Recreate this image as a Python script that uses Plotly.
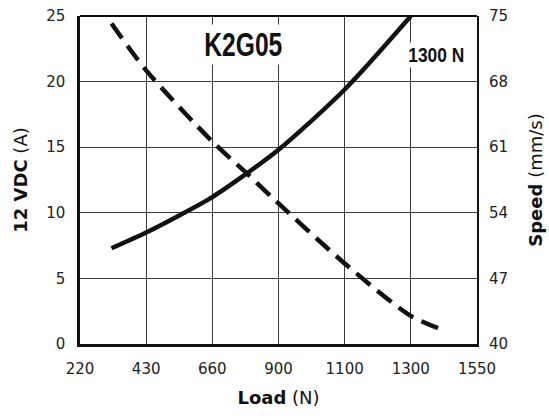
import numpy as np
import plotly.graph_objects as go

# Axis tick values (equally spaced on the chart)
load_ticks = [220, 430, 660, 900, 1100, 1300, 1550]
current_ticks = [0, 5, 10, 15, 20, 25]
speed_ticks = [40, 47, 54, 61, 68, 75]

# Current curve (12 VDC, A) vs load (N)
current_load = [320, 430, 545, 660, 785, 900, 1100, 1300]
current_amp = [7.3, 8.5, 9.8, 11.2, 13.0, 14.8, 19.4, 25.0]

# Speed curve (mm/s) vs load (N)
speed_load = [320, 430, 660, 785, 900, 1100, 1300, 1430]
speed_mms = [74.2, 69.2, 61.6, 58.2, 55.0, 48.6, 43.0, 41.4]

model_label = "K2G05"
max_load_label = "1300 N"

# Load axis is equally spaced between tick labels -> piecewise scale
tick_pos = list(range(len(load_ticks)))
def load_scale(v):
    return np.interp(v, load_ticks, tick_pos)

ink = "#111111"
grid = "#3a3a3a"
tick_font = dict(family="DejaVu Sans", size=15, color="#222222")
title_font = dict(family="DejaVu Sans", size=18, color="#111111")
label_family = "Liberation Sans"

fig = go.Figure()
fig.add_trace(go.Scatter(
    x=load_scale(current_load), y=current_amp, mode="lines",
    line=dict(color=ink, width=4.5, shape="spline", smoothing=0.8),
    yaxis="y", showlegend=False, hoverinfo="skip"))
fig.add_trace(go.Scatter(
    x=load_scale(speed_load), y=speed_mms, mode="lines",
    line=dict(color=ink, width=4.5, dash="18px,9px", shape="spline", smoothing=0.8),
    yaxis="y2", showlegend=False, hoverinfo="skip"))

fig.update_layout(
    width=549, height=416,
    margin=dict(l=80, r=72, t=16, b=72, autoexpand=False),
    paper_bgcolor="white", plot_bgcolor="white",
    xaxis=dict(
        range=[0, len(load_ticks) - 1], tickvals=tick_pos,
        ticktext=[str(v) for v in load_ticks],
        showgrid=True, gridcolor=grid, gridwidth=1,
        showline=True, linecolor=ink, linewidth=3,
        ticks="", tickfont=tick_font, ticklabelstandoff=9,
        zeroline=False, automargin=False,
        title=dict(text="<b>Load</b> (N)", font=title_font, standoff=15),
    ),
    yaxis=dict(
        range=[0, 25], tickvals=current_ticks,
        showgrid=True, gridcolor=grid, gridwidth=1,
        showline=True, linecolor=ink, linewidth=2.5,
        ticks="", tickfont=tick_font, ticklabelstandoff=9,
        zeroline=False, automargin=False,
        title=dict(text="<b>12 VDC</b> (A)", font=title_font, standoff=14),
    ),
    yaxis2=dict(
        range=[40, 75], tickvals=speed_ticks, overlaying="y", side="right",
        showgrid=False, showline=True, linecolor=ink, linewidth=2,
        ticks="", tickfont=tick_font, ticklabelstandoff=7,
        zeroline=False, automargin=False,
        title=dict(text="<b>Speed</b> (mm/s)", font=title_font, standoff=22),
    ),
    shapes=[dict(type="line", xref="paper", yref="paper", x0=0, x1=1, y0=1, y1=1,
                 line=dict(color=ink, width=2))],
    annotations=[
        dict(text="<b>" + model_label + "</b>", xref="paper", yref="paper",
             x=0.413, y=0.913, xanchor="center", yanchor="middle",
             showarrow=False, bgcolor="white",
             font=dict(family=label_family, size=33, color=ink)),
        dict(text="<b>" + max_load_label + "</b>", xref="paper", yref="paper",
             x=0.897, y=0.880, xanchor="center", yanchor="middle",
             showarrow=False, bgcolor="white",
             font=dict(family=label_family, size=20, color=ink)),
    ],
)

# Condense the two bold labels horizontally (the original uses a condensed face)
post = """
document.body.style.margin='0';
(function(){
  var widths = {'K2G05': 78, '1300 N': 56};
  function squeeze(){
    document.querySelectorAll('text.annotation-text').forEach(function(t){
      var w = widths[t.textContent.trim()];
      if (w) { t.setAttribute('textLength', w); t.setAttribute('lengthAdjust', 'spacingAndGlyphs'); }
    });
  }
  squeeze();
  var gd = document.getElementById('{plot_id}');
  if (gd && gd.on) { gd.on('plotly_afterplot', squeeze); }
  setTimeout(squeeze, 50);
})();
"""

fig.write_html("out.html", post_script=post, config={"displayModeBar": False})
